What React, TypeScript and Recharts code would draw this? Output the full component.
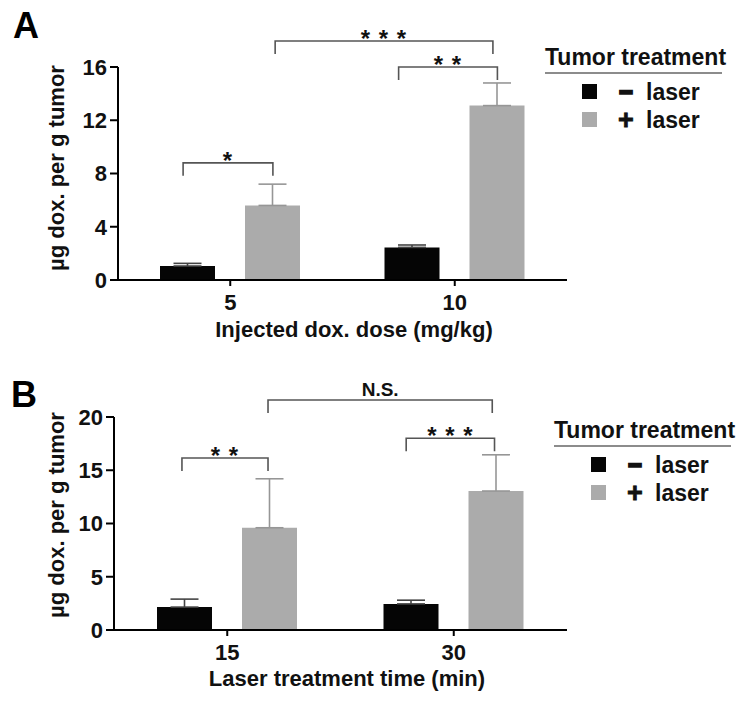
import React from "react";
import { BarChart, Bar, XAxis, YAxis, ErrorBar, Legend, Customized } from "recharts";

const FONT = "'Liberation Sans', Arial, Helvetica, sans-serif";
const BLACK = "#050505";
const GRAY = "#ababab";
const BRACKET = "#555555";

// Panel A: injected dose
const doseCats = ["5", "10"];
const doseNoLaser = [1.05, 2.45];
const doseNoLaserErr = [0.2, 0.18];
const doseLaser = [5.6, 13.1];
const doseLaserErr = [1.6, 1.7];
const doseTicks = [0, 4, 8, 12, 16];

// Panel B: laser time
const timeCats = ["15", "30"];
const timeNoLaser = [2.15, 2.45];
const timeNoLaserErr = [0.75, 0.35];
const timeLaser = [9.6, 13.05];
const timeLaserErr = [4.6, 3.4];
const timeTicks = [0, 5, 10, 15, 20];

// brackets: x in category units, y in data units
const doseBrackets = [
    { x1: 0.29, x2: 0.69, y: 8.8, text: "*" },
    { x1: 1.25, x2: 1.69, y: 16.0, text: "* *" },
    { x1: 0.7, x2: 1.67, y: 17.95, text: "* * *" },
];
const timeBrackets = [
    { x1: 0.3, x2: 0.68, y: 16.15, text: "* *" },
    { x1: 0.68, x2: 1.67, y: 21.6, text: "N.S." },
    { x1: 1.29, x2: 1.68, y: 18.0, text: "* * *" },
];

const seriesNames = ["laser", "laser"];

const WIDTH = 748;
const Y_W = 60;
const PLOT_TOP = 67;
const PLOT_BOTTOM = 280;
const RIGHT = 181;

function Annotations(props: any) {
    const { letter, letterX, letterY, yLabel, yLabelX, yLabelY, xLabel, xLabelX, xLabelY, brackets, plotLeft, band, yMax } = props;
    const xAt = (u: number) => plotLeft + u * band;
    const yAt = (v: number) => PLOT_BOTTOM - (v / yMax) * (PLOT_BOTTOM - PLOT_TOP);
    return (
        <g fontFamily={FONT}>
            <text x={letterX} y={letterY} fontSize={36} fontWeight={700} fill="#000">{letter}</text>
            <text
                x={yLabelX}
                y={yLabelY}
                transform={`rotate(-90 ${yLabelX} ${yLabelY})`}
                textAnchor="middle"
                fontSize={22}
                fontWeight={700}
                fill="#111"
            >
                {yLabel}
            </text>
            <text x={xLabelX} y={xLabelY} textAnchor="middle" fontSize={22} fontWeight={700} fill="#111">{xLabel}</text>
            {brackets.map((b: any, i: number) => {
                const x1 = xAt(b.x1);
                const x2 = xAt(b.x2);
                const y = yAt(b.y);
                const ns = b.text === "N.S.";
                return (
                    <g key={i}>
                        <path d={`M${x1},${y + 13} L${x1},${y} L${x2},${y} L${x2},${y + 13}`} fill="none" stroke={BRACKET} strokeWidth={1.6} />
                        <text
                            x={(x1 + x2) / 2}
                            y={ns ? y - 4 : y + 6}
                            textAnchor="middle"
                            fontSize={ns ? 19 : 24}
                            fontWeight={700}
                            letterSpacing={ns ? 0 : 1}
                            fill="#111"
                        >
                            {b.text}
                        </text>
                    </g>
                );
            })}
        </g>
    );
}

function LegendBox() {
    return (
        <svg width={208} height={100} style={{ fontFamily: FONT, overflow: "visible" }}>
            <text x={5} y={25} fontSize={23} fontWeight={700} fill="#111">Tumor treatment</text>
            <line x1={5} x2={182} y1={33} y2={33} stroke="#666" strokeWidth={1.5} />
            <rect x={42} y={44} width={15} height={15} fill={BLACK} />
            <text x={86} y={60} textAnchor="middle" fontSize={23} fontWeight={700} fill="#111" stroke="#111" strokeWidth={2.4}>−</text>
            <text x={106} y={60} fontSize={23} fontWeight={700} fill="#111">{seriesNames[0]}</text>
            <rect x={42} y={72} width={15} height={15} fill={GRAY} />
            <text x={86} y={89} textAnchor="middle" fontSize={27} fontWeight={700} fill="#111" stroke="#111" strokeWidth={0.8}>+</text>
            <text x={106} y={88} fontSize={23} fontWeight={700} fill="#111">{seriesNames[1]}</text>
        </svg>
    );
}

function Panel(props: any) {
    const { top, height, marginLeft, cats, noLaser, noErr, laser, laserErr, ticks, brackets, legendLeft, legendTop } = props;
    const data = cats.map((c: string, i: number) => ({
        cat: c,
        off: noLaser[i],
        offErr: [0, noErr[i]],
        on: laser[i],
        onErr: [0, laserErr[i]],
    }));
    const yMax = ticks[ticks.length - 1];
    const plotLeft = marginLeft + Y_W;
    const band = (WIDTH - RIGHT - plotLeft) / cats.length;
    const marginBottom = height - PLOT_BOTTOM - 40;
    const tickStyle = { fill: "#111", fontSize: 22, fontWeight: 700, fontFamily: FONT };
    const axisStyle = { stroke: "#000", strokeWidth: 2 };

    return (
        <div style={{ position: "absolute", left: 0, top }}>
            <BarChart
                width={WIDTH}
                height={height}
                data={data}
                barGap={30}
                margin={{ top: PLOT_TOP, right: RIGHT, bottom: marginBottom, left: marginLeft }}
            >
                <XAxis
                    dataKey="cat"
                    height={40}
                    tickSize={6}
                    tickMargin={8}
                    interval={0}
                    axisLine={axisStyle}
                    tickLine={axisStyle}
                    tick={tickStyle}
                />
                <YAxis
                    width={Y_W}
                    domain={[0, yMax]}
                    ticks={ticks}
                    interval={0}
                    tickSize={8}
                    tickMargin={3}
                    axisLine={axisStyle}
                    tickLine={axisStyle}
                    tick={tickStyle}
                />
                <Bar dataKey="off" fill={BLACK} barSize={55} isAnimationActive={false}>
                    <ErrorBar dataKey="offErr" direction="y" width={14} stroke="#444" strokeWidth={1.6} isAnimationActive={false} />
                </Bar>
                <Bar dataKey="on" fill={GRAY} barSize={55} isAnimationActive={false}>
                    <ErrorBar dataKey="onErr" direction="y" width={14} stroke="#969696" strokeWidth={1.6} isAnimationActive={false} />
                </Bar>
                <Legend
                    layout="horizontal"
                    verticalAlign="middle"
                    align="center"
                    wrapperStyle={{ left: legendLeft, top: legendTop, width: 208, height: 100 }}
                    content={() => <LegendBox />}
                />
                <Customized
                    component={
                        <Annotations
                            {...props}
                            plotLeft={plotLeft}
                            band={band}
                            yMax={yMax}
                            brackets={brackets}
                        />
                    }
                />
            </BarChart>
        </div>
    );
}

export default function App() {
    return (
        <div style={{ position: "absolute", left: 0, top: 0, width: WIDTH, height: 704, background: "#fff", fontFamily: FONT }}>
            <Panel
                top={0}
                height={350}
                marginLeft={58}
                cats={doseCats}
                noLaser={doseNoLaser}
                noErr={doseNoLaserErr}
                laser={doseLaser}
                laserErr={doseLaserErr}
                ticks={doseTicks}
                brackets={doseBrackets}
                letter="A"
                letterX={13}
                letterY={38}
                yLabel="µg dox. per g tumor"
                yLabelX={64}
                yLabelY={168}
                xLabel="Injected dox. dose (mg/kg)"
                xLabelX={354}
                xLabelY={337}
                legendLeft={540}
                legendTop={40}
            />
            <Panel
                top={350}
                height={354}
                marginLeft={54}
                cats={timeCats}
                noLaser={timeNoLaser}
                noErr={timeNoLaserErr}
                laser={timeLaser}
                laserErr={timeLaserErr}
                ticks={timeTicks}
                brackets={timeBrackets}
                letter="B"
                letterX={11}
                letterY={57}
                yLabel="µg dox. per g tumor"
                yLabelX={64}
                yLabelY={165}
                xLabel="Laser treatment time (min)"
                xLabelX={347}
                xLabelY={336}
                legendLeft={549}
                legendTop={63}
            />
        </div>
    );
}
